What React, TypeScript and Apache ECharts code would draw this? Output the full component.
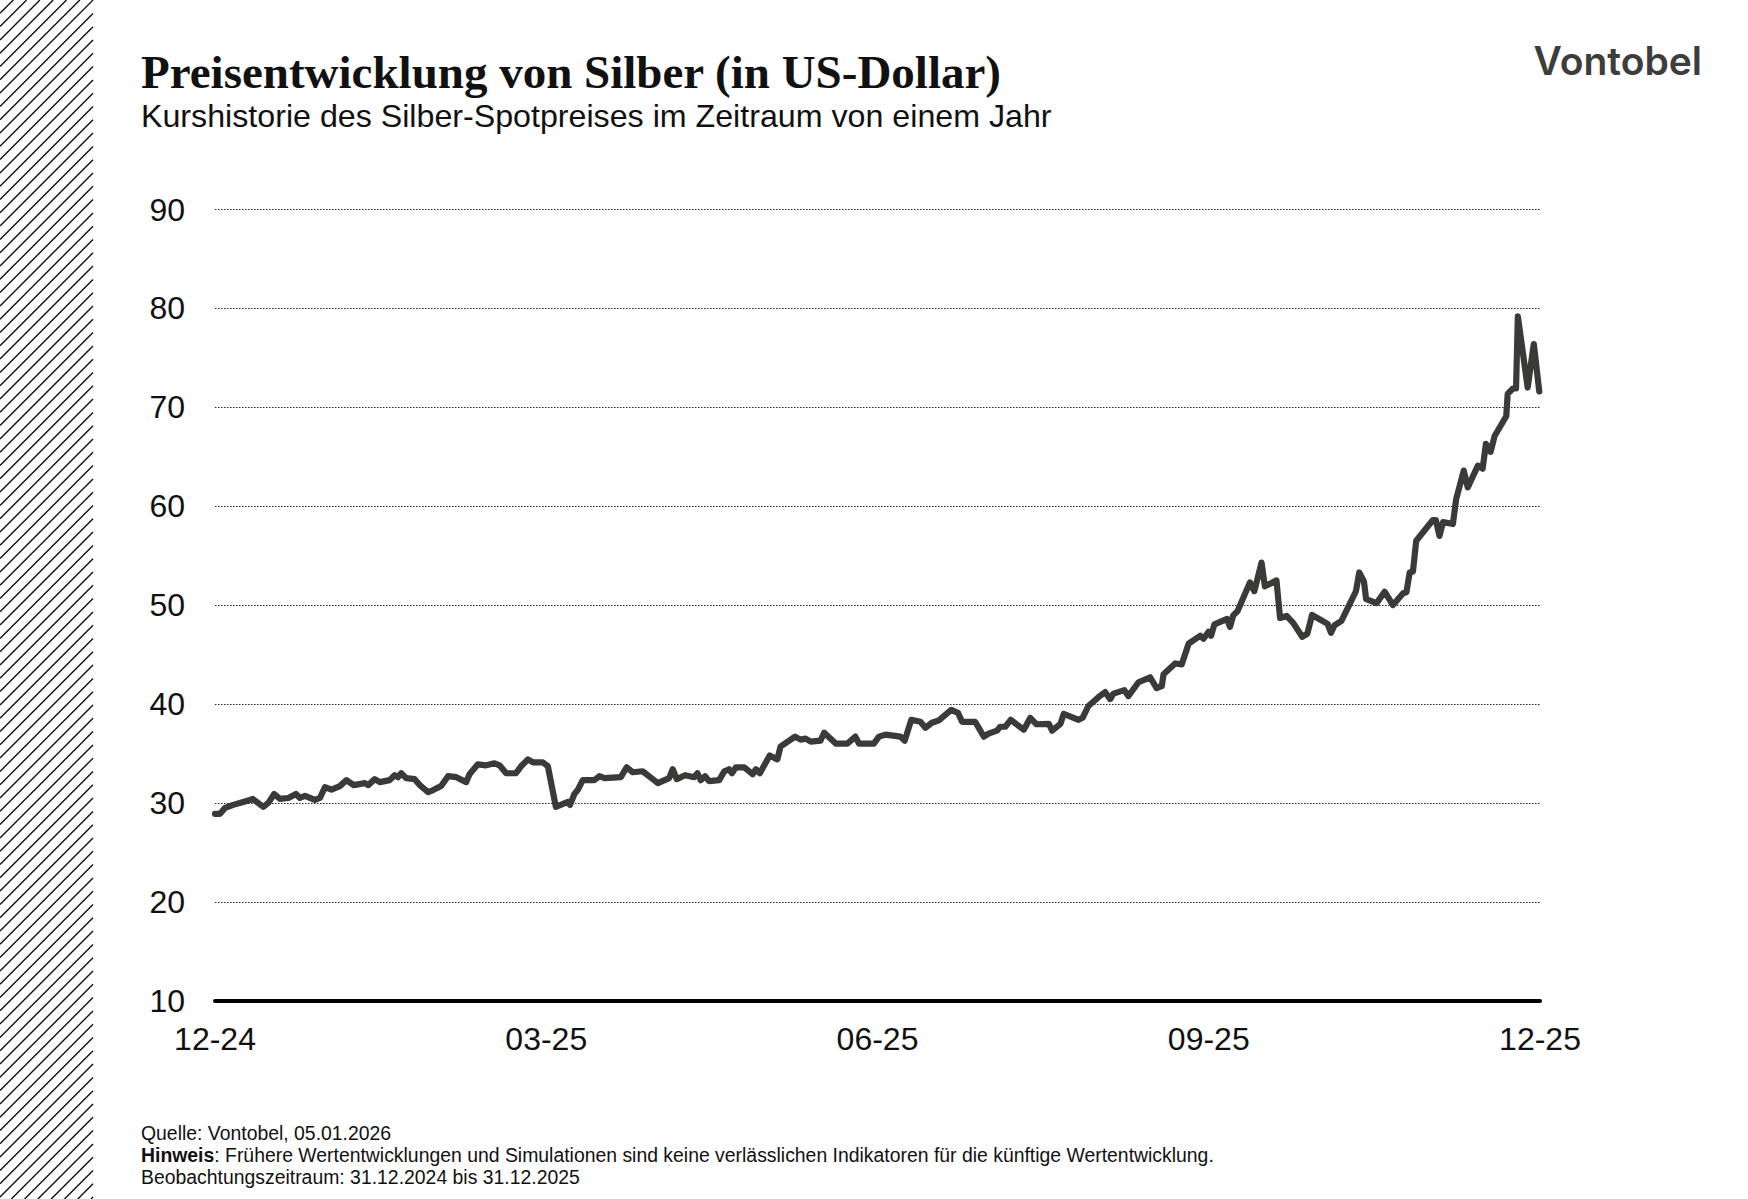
import React, { useEffect, useRef } from "react";
import * as echarts from "echarts";

const TITLE = "Preisentwicklung von Silber (in US-Dollar)";
const SUBTITLE = "Kurshistorie des Silber-Spotpreises im Zeitraum von einem Jahr";
const LOGO = "Vontobel";
const FOOT_SOURCE = "Quelle: Vontobel, 05.01.2026";
const FOOT_NOTE_BOLD = "Hinweis";
const FOOT_NOTE = ": Frühere Wertentwicklungen und Simulationen sind keine verlässlichen Indikatoren für die künftige Wertentwicklung.";
const FOOT_PERIOD = "Beobachtungszeitraum: 31.12.2024 bis 31.12.2025";

const X_TICK_LABELS = ["12-24", "03-25", "06-25", "09-25", "12-25"];
const X_MIN = 0;
const X_MAX = 365;
const X_STEP = 91.25;
const Y_MIN = 10;
const Y_MAX = 90;
const Y_STEP = 10;

// days since 31.12.2024
const DAYS = [
  0, 1.4, 2.8, 5, 7.8, 9.6, 10.4, 13.3, 14.7, 16.3, 17.9, 20.2, 22.3, 23.4, 24.8, 27.5, 28.9,
  30.3, 32.1, 34.4, 36.2, 38.2, 41.3, 42.2, 44, 45.4, 48.1, 49.5, 50.4, 51.3, 52.7, 55, 56.4,
  58.7, 60.1, 62.3, 64.2, 66.5, 69.2, 70.1, 72.4, 74.7, 77, 78.4, 80.2, 82.9, 84.3, 86.2, 87.6,
  90.3, 91.7, 93.9, 97.2, 97.8, 99, 99.9, 101.3, 104.5, 105.9, 107.3, 111.8, 113.4, 115.1, 117.8,
  122, 125.1, 126.1, 127.2, 129.5, 132, 132.9, 133.8, 135, 136.1, 138.9, 140.3, 141.6, 142.4,
  143.5, 145.8, 148.1, 149, 150.1, 152.8, 154.9, 155.8, 159.8, 161.3, 162.7, 164.1, 166.8, 167.8,
  171, 174.2, 176.4, 177.4, 181.5, 182.9, 184.7, 188.8, 190, 191.8, 194.3, 195.7, 197.5, 199.4,
  202.8, 204.7, 205.8, 209.4, 211.8, 213.1, 215.4, 216.3, 217.7, 219.2, 222.8, 224.6, 226.3,
  229.7, 230.6, 232.9, 233.8, 237.9, 239, 240.6, 243.4, 245.2, 246.6, 247.5, 250.5, 251.6, 254.4,
  257.6, 259.4, 260.8, 261.3, 264.5, 266.3, 268.2, 271.4, 272.3, 273.7, 274.4, 275.3, 278.8,
  279.6, 280.5, 281.7, 285.1, 286.3, 288.3, 289.2, 292.4, 293.4, 295.2, 297, 299.5, 300.9, 302.2,
  306.5, 307.4, 308.4, 310.3, 313.1, 314.3, 315.2, 316.5, 317.1, 320, 322.2, 324.5, 327.3, 328.2,
  329.1, 330, 330.9, 335.5, 336.3, 337.3, 338.3, 341, 341.9, 344, 345.1, 347.9, 349.2, 350.1,
  351.4, 352.5, 355.7, 356.1, 357.5, 358.4, 358.9, 361.6, 363.3, 364.8,
];

const PRICES = [
  28.9, 28.9, 29.5, 29.8, 30.1, 30.3, 30.4, 29.6, 30.0, 30.9, 30.4, 30.5, 30.9, 30.5, 30.7, 30.3, 30.5,
  31.6, 31.35, 31.7, 32.3, 31.8, 32.0, 31.8, 32.4, 32.1, 32.3, 32.8, 32.6, 33.0, 32.5, 32.4, 31.8,
  31.1, 31.3, 31.7, 32.7, 32.6, 32.1, 32.9, 33.9, 33.8, 34.0, 33.8, 33.0, 33.0, 33.7, 34.4, 34.1,
  34.1, 33.7, 29.6, 30.1, 29.8, 30.9, 31.3, 32.3, 32.3, 32.7, 32.5, 32.6, 33.6, 33.1, 33.2,
  32.0, 32.5, 33.4, 32.4, 32.8, 32.6, 33.0, 32.3, 32.7, 32.2, 32.3, 33.2, 33.4, 33.0,
  33.6, 33.6, 32.9, 33.4, 33.0, 34.8, 34.4, 35.7, 36.7, 36.4, 36.5, 36.2, 36.3, 37.1,
  36.0, 36.0, 36.7, 36.0, 36.0, 36.7, 36.9, 36.7, 36.3, 38.4, 38.2, 37.6, 38.1, 38.35,
  39.4, 39.1, 38.2, 38.2, 36.7, 37.0, 37.3, 37.7, 37.7, 38.4, 37.4, 38.6, 37.95,
  38.0, 37.3, 38.0, 39.0, 38.4, 38.6, 39.8, 40.7, 41.2, 40.5, 41.05, 41.4, 40.8, 42.2,
  42.7, 41.6, 41.8, 43.0, 44.1, 44.0, 46.1, 46.9, 46.6, 47.3, 46.9, 48.05, 48.6,
  47.8, 48.96, 49.4, 52.3, 51.4, 54.3, 51.9, 52.5, 48.7, 48.9, 48.2, 46.8, 47.1, 49.0,
  48.1, 47.2, 47.95, 48.4, 50.5, 51.4, 53.3, 52.4, 50.6, 50.2, 51.35, 50.0, 51.2, 51.3,
  53.3, 53.4, 56.5, 58.6, 58.6, 57.0, 58.4, 58.2, 60.7, 63.6, 61.9, 64.1, 63.8, 66.3,
  65.5, 67.1, 69.1, 71.35, 71.9, 71.9, 79.2, 72.0, 76.4, 71.6,
];

function buildHatch(): any[] {
  const lines: any[] = [];
  const w = 93;
  const h = 1199;
  const step = 13.3;
  for (let c = 0; c <= h + w; c += step) {
    let x1 = 0, y1 = c;
    if (y1 > h) { x1 = c - h; y1 = h; }
    let x2 = w, y2 = c - w;
    if (y2 < 0) { x2 = c; y2 = 0; }
    if (x1 > w || x2 < 0) continue;
    lines.push({
      type: "line",
      shape: { x1, y1, x2, y2 },
      style: { stroke: "#111", lineWidth: 1.4 },
      silent: true,
    });
  }
  return lines;
}

export default function App() {
  const ref = useRef<HTMLDivElement>(null);

  useEffect(() => {
    if (!ref.current) return;
    const chart = echarts.init(ref.current, null, { renderer: "svg" });
    const data = DAYS.map((d, i) => [d, PRICES[i]]);

    const sans = "'Liberation Sans', Arial, Helvetica, sans-serif";

    chart.setOption({
      animation: false,
      backgroundColor: "#ffffff",
      grid: { left: 215, right: 208, top: 209.5, bottom: 198.3, containLabel: false },
      xAxis: {
        type: "value",
        min: X_MIN,
        max: X_MAX,
        interval: X_STEP,
        axisLine: { show: true, lineStyle: { color: "#000", width: 4 } },
        axisTick: { show: false },
        splitLine: { show: false },
        axisLabel: {
          color: "#111",
          fontFamily: sans,
          fontSize: 32,
          margin: 22,
          formatter: (v: number) => X_TICK_LABELS[Math.round(v / X_STEP)] ?? "",
        },
      },
      yAxis: {
        type: "value",
        min: Y_MIN,
        max: Y_MAX,
        interval: Y_STEP,
        axisLine: { show: false },
        axisTick: { show: false },
        axisLabel: { color: "#111", fontFamily: sans, fontSize: 32, margin: 30 },
        splitLine: { show: true, lineStyle: { color: "#222", width: 1.2, type: [1.5, 1.5] } },
      },
      series: [
        {
          type: "line",
          data,
          showSymbol: false,
          symbol: "none",
          lineStyle: { color: "#3a3a38", width: 6.2, join: "round", cap: "round" },
          z: 3,
        },
      ],
      graphic: [
        ...buildHatch(),
        {
          type: "text",
          x: 141,
          y: 72,
          style: {
            text: TITLE,
            font: "bold 47px 'Liberation Serif', 'Times New Roman', serif",
            fill: "#111",
            textVerticalAlign: "middle",
          },
        },
        {
          type: "text",
          x: 141,
          y: 116,
          style: {
            text: SUBTITLE,
            font: "32.2px " + sans,
            fill: "#111",
            textVerticalAlign: "middle",
          },
        },
        {
          type: "text",
          x: 1702,
          y: 60.5,
          style: {
            text: LOGO,
            font: "600 39px Inter, 'Noto Sans', sans-serif",
            fill: "#3d3d3c",
            textAlign: "right",
            textVerticalAlign: "middle",
          },
        },
        {
          type: "text",
          x: 141,
          y: 1133,
          style: { text: FOOT_SOURCE, font: "19.4px " + sans, fill: "#111", textVerticalAlign: "middle" },
        },
        {
          type: "text",
          x: 141,
          y: 1155,
          style: {
            text: "{b|" + FOOT_NOTE_BOLD + "}" + FOOT_NOTE,
            font: "19.4px " + sans,
            fill: "#111",
            textVerticalAlign: "middle",
            rich: { b: { fontWeight: "bold", fontSize: 19.4, fontFamily: sans, fill: "#111" } },
          },
        },
        {
          type: "text",
          x: 141,
          y: 1177.4,
          style: { text: FOOT_PERIOD, font: "19.4px " + sans, fill: "#111", textVerticalAlign: "middle" },
        },
      ],
    });

    return () => chart.dispose();
  }, []);

  return (
    <div
      ref={ref}
      style={{ position: "fixed", left: 0, top: 0, width: 1748, height: 1199, background: "#fff" }}
    />
  );
}
